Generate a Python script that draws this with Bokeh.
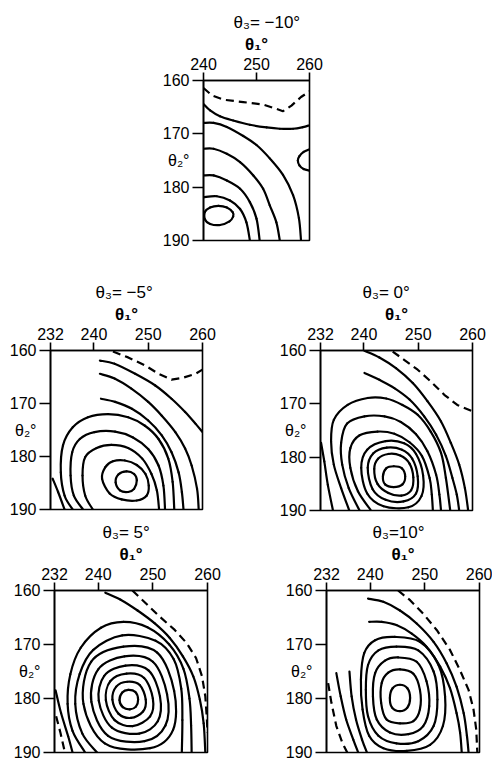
from bokeh.plotting import figure
from bokeh.models import Range1d, Spacer, ColumnDataSource, LinearAxis
from bokeh.layouts import row, column
from bokeh.embed import file_html
from bokeh.resources import INLINE

# ------------------------------------------------------------------ data
THETA2_TICKS = [160, 170, 180, 190]
THETA2_LABEL_TICK = 175
THETA1_TICKS_TOP = [240, 250, 260]
THETA1_TICKS = [232, 240, 250, 260]
TITLES = ["\u03b8\u2083= \u221210\u00b0", "\u03b8\u2083= \u22125\u00b0", "\u03b8\u2083= 0\u00b0",
          "\u03b8\u2083= 5\u00b0", "\u03b8\u2083=10\u00b0"]
THETA1_LABEL = "\u03b8\u2081\u00b0"
THETA2_LABEL = "\u03b8\u2082\u00b0"

# panel 1 : theta3 = -10
p1_dash_x = [[240, 241.6, 243.75, 247.5, 251.25, 253.4, 255, 256.6, 258.4, 260]]
p1_dash_y = [[161.4, 162.8, 163.6, 164.05, 164.5, 165.2, 165.75, 164.7, 163.1, 162.05]]
p1_solid_x = [
    [240, 241.25, 243.1, 245.6, 248.75, 251.9, 254.4, 256.9, 258.75, 260],
    [240, 241.9, 244.4, 247.5, 250, 252.5, 255, 256.9, 258, 258.4],
    [240, 241.9, 244.4, 246.9, 249.4, 251.25, 252.5, 253.75, 254.4],
    [240, 241.9, 244.4, 246.9, 248.75, 250, 250.6],
    [240, 242.5, 245, 246.9, 248.1, 248.75],
    [260, 258.9, 258.1, 257.8, 258.1, 258.9, 260],
]
p1_solid_y = [
    [164.4, 165.6, 166.7, 167.5, 168.3, 168.8, 169.05, 169.05, 168.75, 168.4],
    [167.95, 167.95, 168.7, 170.4, 172.1, 174.6, 177.7, 181.5, 185.8, 190],
    [172.8, 172.8, 173.75, 175.3, 177.8, 180.3, 183.4, 186.6, 190],
    [177.8, 177.8, 178.75, 180.3, 182.8, 185.9, 190],
    [181.9, 181.7, 182.5, 184.1, 186.6, 190],
    [172.9, 173.4, 174.2, 175, 175.9, 176.6, 176.9],
]
p1_loop_x = [[240.3, 241.25, 242.8, 244.4, 245.5, 245.6, 244.9, 243.1, 241.25, 240.3]]
p1_loop_y = [[184.6, 183.8, 183.5, 183.8, 184.7, 185.5, 186.4, 187.1, 186.9, 186.1]]

# panel 2 : theta3 = -5
p2_dash_x = [[243.5, 246.3, 249.4, 251.9, 254.3, 256.2, 258.7, 260]]
p2_dash_y = [[160.2, 161.3, 162.8, 164.4, 165.5, 165.2, 164.4, 163.6]]
p2_solid_x = [
    [241.1, 243.8, 247.6, 251.3, 254.3, 256.8, 258.7, 260],
    [241.1, 243.8, 246.9, 250, 252.5, 255, 256.8, 258, 259, 259.3],
    [241.3, 243.9, 247, 250, 252.5, 254.3, 255.6, 256.2, 256.5],
    [236.1, 234.6, 233.9, 234.3, 236.1, 238.9, 242.6, 246.3, 249.4, 251.9, 253.7, 254.5, 254.8],
    [238, 236.3, 235.7, 236, 237.4, 240.1, 243.9, 247.2, 250, 251.9, 252.8, 253.1],
    [239.8, 238.4, 237.9, 238.4, 240.5, 243.2, 246.3, 248.9, 250.6, 251.6, 252],
    [232.4, 233.4, 234.6],
]
p2_solid_y = [
    [161.9, 162.5, 164.4, 166.6, 169.1, 171.6, 173.8, 175.4],
    [164.4, 165.3, 167.2, 169.7, 172.3, 175.4, 178.5, 181.7, 186.1, 190],
    [169.1, 169.7, 171, 173.2, 176, 179.2, 183, 186.7, 190],
    [190, 187.4, 183, 177.9, 174.5, 172.6, 172, 172.6, 174.2, 176.7, 180.4, 184.8, 190],
    [190, 187.4, 183.6, 179.2, 176.7, 175.4, 175.3, 176.4, 178.6, 181.7, 185.5, 190],
    [190, 187.4, 183.6, 180.1, 178.4, 177.8, 178.4, 180.4, 183.3, 186.4, 190],
    [184.2, 186.7, 190],
]
p2_loop_x = [
    [241.5, 242.1, 243.5, 245.7, 247.9, 249.5, 250.1, 249.7, 247.9, 245.1, 242.9],
    [246, 247.4, 247.9, 247.4, 246.3, 244.8, 244, 244.5],
]
p2_loop_y = [
    [184.2, 182, 180.9, 180.75, 181.6, 183.3, 185.5, 187.4, 188.3, 188.1, 187],
    [182.8, 183.3, 184.5, 186.1, 186.7, 186.4, 184.9, 183.4],
]

# panel 3 : theta3 = 0
p3_dash_x = [[245.3, 247.4, 249.9, 252.3, 254.8, 257.2, 260]]
p3_dash_y = [[160.2, 161.75, 163.6, 165.8, 168.3, 170.2, 171.4]]
p3_solid_x = [
    [240.1, 242.85, 245.9, 249, 251.7, 254.2, 256, 257.55, 258.6, 259.2],
    [240.1, 242.85, 245.6, 248.4, 251.1, 253.3, 255.1, 256.3, 257.1, 257.55],
    [237.3, 235.8, 234.45, 233.95, 234.45, 237, 240.7, 244.1, 247.1, 249.9, 252.3, 254.2, 255.1, 255.9],
    [239.2, 237.2, 236, 235.8, 236.9, 240.1, 243.8, 246.8, 249.6, 251.7, 253.3, 253.9, 254.2],
    [241.3, 238.9, 237.5, 237.5, 239.2, 242.5, 245.6, 248.4, 250.7, 252.1, 252.5, 252.7],
    [232.1, 232.7, 233.35, 234.3],
]
p3_solid_y = [
    [160.05, 161.3, 163.3, 166.1, 169.5, 173.3, 177.3, 181.4, 185.8, 190],
    [164.2, 165.5, 167.05, 169.2, 172.35, 175.8, 179.8, 183.9, 187, 190],
    [190, 185.8, 181.4, 177, 173, 170.2, 168.9, 169, 170.2, 172.05, 175.2, 179.2, 183.9, 190],
    [190, 185.8, 181.4, 177.3, 173.7, 172.35, 172.35, 173.4, 175.7, 178.9, 183.3, 187, 190],
    [190, 186.4, 182, 178.3, 175.9, 175.2, 175.6, 177.2, 179.8, 183.9, 187, 190],
    [177.3, 180.8, 185.2, 190],
]
p3_loop_x = [
    [244, 247.4, 249.6, 250.9, 250.6, 248.2, 243.6, 240.6, 239.5, 240.6],
    [244.2, 247, 248.9, 249.9, 249.6, 247.3, 244, 241.6, 240.7, 241.7],
    [244.5, 246.7, 248.4, 249.1, 248.7, 246.9, 244.5, 242.5, 241.9, 242.6],
    [245.5, 247, 247.6, 247.1, 245.5, 243.9, 243.5, 244.1],
]
p3_loop_y = [
    [177, 177.4, 179.4, 183.4, 187.3, 189.4, 189.2, 186.8, 182, 178.6],
    [178.2, 178.6, 180.3, 183.6, 186.8, 188.3, 188, 186, 182, 179.3],
    [179.4, 179.7, 181.2, 183.8, 186.2, 187.2, 186.7, 185, 182.2, 180.3],
    [181.7, 182.1, 183.6, 185.1, 185.6, 185.1, 183.6, 182.1],
]

# panel 4 : theta3 = 5
p4_dash_x = [
    [246.25, 248.7, 251.2, 254, 256.2, 257.9, 259, 259.6, 259.9, 260],
    [232.3, 233.1, 233.9],
]
p4_dash_y = [
    [160, 162.35, 164.8, 167.3, 169.75, 172.5, 175.9, 179.6, 184, 186.4],
    [183.3, 186.4, 190],
]
p4_solid_x = [
    [241.3, 244.1, 247.2, 250.3, 253.1, 255.5, 257.4, 258.6, 259.3, 259.6],
    [239.8, 237.1, 235.8, 236.6, 239.1, 244.4, 250.5, 253.8, 255.2, 255.4, 255.3],
    [237.6, 235.3, 234.4, 234.9, 236.8, 240.5, 244.6, 249, 253, 255.6, 256.7, 257, 257.1],
    [232.2, 233.2, 234.5, 235.3],
]
p4_solid_y = [
    [160.4, 161.7, 163.7, 166.05, 168.8, 172.2, 175.9, 180.2, 184.6, 190],
    [190, 186.5, 181, 175.5, 171, 168.3, 169.3, 172.7, 178.2, 184, 190],
    [190, 186, 181, 175.5, 170.6, 166.9, 165.8, 166.8, 170, 174.5, 180, 185, 190],
    [178.5, 182.7, 187, 190],
]
p4_loop_x = [
    [244.6, 250.8, 253.9, 253.7, 249.5, 241.2, 237.3, 238.7],
    [244.8, 250, 252.6, 252.3, 248.5, 241.8, 238.75, 240],
    [245, 249.2, 251.3, 250.9, 247.5, 242.5, 240.1, 241.1],
    [245.2, 248.4, 250, 249.5, 246.3, 243, 241.4, 242.2],
    [245.3, 247.6, 248.7, 248.2, 246, 243.7, 242.6, 243.3],
    [245.5, 246.8, 247.3, 246.9, 245.8, 244.5, 243.9, 244.4],
]
p4_loop_y = [
    [170.4, 171.5, 178.6, 185.8, 189.2, 188.3, 181, 173.2],
    [172.2, 173.2, 179.2, 185, 187.9, 186.9, 180.6, 174.6],
    [173.9, 174.8, 179.6, 184.2, 186.5, 185.4, 180.4, 175.8],
    [175.4, 176.2, 180, 183.3, 185.1, 184, 180.3, 176.8],
    [176.9, 177.5, 180.2, 182.4, 183.6, 182.8, 180.2, 177.8],
    [178.4, 178.8, 180.2, 181.5, 182, 181.6, 180.3, 178.9],
]

# panel 5 : theta3 = 10
p5_dash_x = [
    [245.1, 247.3, 249.7, 252.2, 254.6, 256.4, 258, 258.9, 259.4, 259.6],
    [232.3, 232.9, 233.8, 234.9, 235.8],
]
p5_dash_y = [
    [160, 161.8, 164.3, 167.35, 171, 174.7, 178.4, 182, 185.7, 190],
    [177.15, 180.8, 185.1, 188.2, 190],
]
p5_solid_x = [
    [239.6, 242.4, 245.45, 248.5, 251.6, 254, 255.8, 257.1, 257.7, 258],
    [239.8, 242.1, 244.8, 247.6, 250.3, 252.8, 254.6, 255.8, 256.45, 256.75],
    [236.2, 236.6, 237.4, 238.5, 239.4],
    [233.8, 234.6, 235.6, 236.9, 237.8],
]
p5_solid_y = [
    [161.5, 162.1, 163.7, 166.1, 169.5, 173.5, 177.8, 182.7, 186.9, 190],
    [165.8, 165.8, 166.4, 168, 170.4, 174.1, 178.1, 182.7, 186.3, 190],
    [175, 179.6, 183.9, 187.6, 190],
    [175.3, 179.6, 183.9, 187.6, 190],
]
p5_loop_x = [
    [244.5, 249.1, 252.5, 253.7, 253.3, 250.95, 246.7, 242.4, 239.8, 238.6, 238.3, 238.9, 240.9],
    [244.8, 248.8, 251.6, 252.3, 251.6, 248.8, 244.8, 241.5, 239.6, 239.2, 239.6, 241.5],
    [245.1, 248.5, 250.3, 250.8, 249.7, 247, 243.6, 241.2, 240.5, 240.9, 242.7],
    [245.45, 247.9, 249.1, 249.1, 247.9, 245.45, 243, 242, 242.1, 243.3],
    [245.45, 246.8, 247.3, 246.8, 245.45, 244, 243.6, 244.1],
]
p5_loop_y = [
    [168.6, 169.5, 173.8, 179.6, 185.1, 188.6, 189.7, 189.2, 186.9, 182, 176.5, 171.6, 169.2],
    [170.4, 171.1, 175, 180.2, 185.1, 187.9, 188.3, 186.9, 183.3, 178.4, 173.8, 171.1],
    [172.4, 173.2, 176.8, 181.4, 185.1, 186.6, 186.3, 183.9, 179.6, 175.3, 173],
    [174.6, 175.4, 178.4, 182, 184.2, 184.6, 183.9, 180.8, 177.15, 175.2],
    [177.45, 178.1, 179.9, 181.7, 182.35, 181.7, 179.9, 178.1],
]

# ------------------------------------------------------------------ helpers
FONT = "Liberation Sans"


def smooth_segments(xs, ys, closed):
    """Cubic Bezier pieces (Catmull-Rom handles) through the traced points."""
    n = len(xs)
    out = {k: [] for k in ("x0", "y0", "x1", "y1", "cx0", "cy0", "cx1", "cy1")}
    m = n if closed else n - 1
    for i in range(m):
        i1, i2 = i, (i + 1) % n
        i0 = (i - 1) % n if (closed or i > 0) else i1
        i3 = (i + 2) % n if (closed or i + 2 < n) else i2
        out["x0"].append(xs[i1]); out["y0"].append(ys[i1])
        out["x1"].append(xs[i2]); out["y1"].append(ys[i2])
        out["cx0"].append(xs[i1] + (xs[i2] - xs[i0]) / 6.0)
        out["cy0"].append(ys[i1] + (ys[i2] - ys[i0]) / 6.0)
        out["cx1"].append(xs[i2] - (xs[i3] - xs[i1]) / 6.0)
        out["cy1"].append(ys[i2] - (ys[i3] - ys[i1]) / 6.0)
    return out


def style_axis(ax):
    ax.axis_line_color = "black"
    ax.axis_line_width = 1.6
    ax.major_tick_line_color = "black"
    ax.major_tick_line_width = 1.6
    ax.minor_tick_line_color = None
    ax.major_tick_in = 0
    ax.major_label_text_font = FONT
    ax.major_label_text_font_size = "16px"
    ax.major_label_text_color = "black"


def make_panel(spec, title, sx, sy, lx, ly, dx, dy, ticks):
    fw, fh = spec["frame"]
    bl, bt, br, bb = spec["borders"]
    x0, x1 = spec["xr"]
    p = figure(x_range=Range1d(x0, x1), y_range=Range1d(190, 160),
               frame_width=fw, frame_height=fh,
               min_border_left=bl, min_border_top=bt,
               min_border_right=br, min_border_bottom=bb,
               x_axis_location="above", y_axis_location="left",
               toolbar_location=None, output_backend="svg", title=title,
               background_fill_color="white", border_fill_color="white")
    p.title.align = "left"
    p.title.offset = spec["title_offset"]
    p.title.standoff = 0
    p.title.text_font = FONT
    p.title.text_font_size = "17px"
    p.title.text_font_style = "normal"
    p.title.text_color = "black"

    # top axis: theta1
    xa = p.xaxis[0]
    style_axis(xa)
    xa.ticker = ticks
    xa.major_tick_out = 8
    xa.major_label_standoff = 3
    xa.axis_label = THETA1_LABEL
    xa.axis_label_standoff = 1
    xa.axis_label_text_font = FONT
    xa.axis_label_text_font_size = "17px"
    xa.axis_label_text_font_style = "bold"
    xa.axis_label_text_color = "black"

    # left axis: ticks only (next to the box)
    ya = p.yaxis[0]
    style_axis(ya)
    ya.ticker = THETA2_TICKS
    ya.major_tick_out = 11
    ya.major_label_standoff = 0
    ya.major_label_text_font_size = "0px"
    ya.major_label_overrides = {t: "" for t in THETA2_TICKS}

    # left axis: tick labels and the theta2 label in one column
    yl = LinearAxis(ticker=THETA2_TICKS + [THETA2_LABEL_TICK],
                    major_label_overrides={THETA2_LABEL_TICK: THETA2_LABEL})
    style_axis(yl)
    yl.axis_line_color = None
    yl.major_tick_line_color = None
    yl.major_tick_out = 0
    yl.major_label_standoff = 3
    p.add_layout(yl, "left")

    p.xgrid.visible = False
    p.ygrid.visible = False
    p.outline_line_color = "black"
    p.outline_line_width = 1.6
    p.outline_line_alpha = 1.0

    # contours
    seg = {k: [] for k in ("x0", "y0", "x1", "y1", "cx0", "cy0", "cx1", "cy1")}
    for xs, ys in zip(sx, sy):
        s = smooth_segments(xs, ys, False)
        for k in seg:
            seg[k] += s[k]
    for xs, ys in zip(lx, ly):
        s = smooth_segments(xs, ys, True)
        for k in seg:
            seg[k] += s[k]
    p.bezier(x0="x0", y0="y0", x1="x1", y1="y1", cx0="cx0", cy0="cy0",
             cx1="cx1", cy1="cy1", source=ColumnDataSource(seg),
             line_color="black", line_width=2.2, line_cap="round")
    p.multi_line(xs=dx, ys=dy, line_color="black", line_width=2.2,
                 line_dash="8 5", line_join="round")
    return p


# frame size, borders (left, top, right, bottom), title offset from box left
SPECS = [
    dict(xr=(240, 260), frame=(106, 160), borders=(50, 80, 20, 20), title_offset=30),
    dict(xr=(232, 260), frame=(152, 159), borders=(50, 90, 20, 9), title_offset=45),
    dict(xr=(232, 260), frame=(152, 160), borders=(45, 83, 14, 15), title_offset=42),
    dict(xr=(232, 260), frame=(153, 162), borders=(54, 72, 20, 10), title_offset=48),
    dict(xr=(232, 260), frame=(153, 162), borders=(45, 72, 13, 10), title_offset=46),
]

p1 = make_panel(SPECS[0], TITLES[0], p1_solid_x, p1_solid_y, p1_loop_x, p1_loop_y,
                p1_dash_x, p1_dash_y, THETA1_TICKS_TOP)
p2 = make_panel(SPECS[1], TITLES[1], p2_solid_x, p2_solid_y, p2_loop_x, p2_loop_y,
                p2_dash_x, p2_dash_y, THETA1_TICKS)
p3 = make_panel(SPECS[2], TITLES[2], p3_solid_x, p3_solid_y, p3_loop_x, p3_loop_y,
                p3_dash_x, p3_dash_y, THETA1_TICKS)
p4 = make_panel(SPECS[3], TITLES[3], p4_solid_x, p4_solid_y, p4_loop_x, p4_loop_y,
                p4_dash_x, p4_dash_y, THETA1_TICKS)
p5 = make_panel(SPECS[4], TITLES[4], p5_solid_x, p5_solid_y, p5_loop_x, p5_loop_y,
                p5_dash_x, p5_dash_y, THETA1_TICKS)

layout = column(
    row(Spacer(width=153, height=260), p1),
    row(p2, Spacer(width=53, height=258), p3),
    row(p4, Spacer(width=54, height=244), p5),
)

with open("out.html", "w") as f:
    f.write(file_html(layout, INLINE, title="theta contour maps"))
